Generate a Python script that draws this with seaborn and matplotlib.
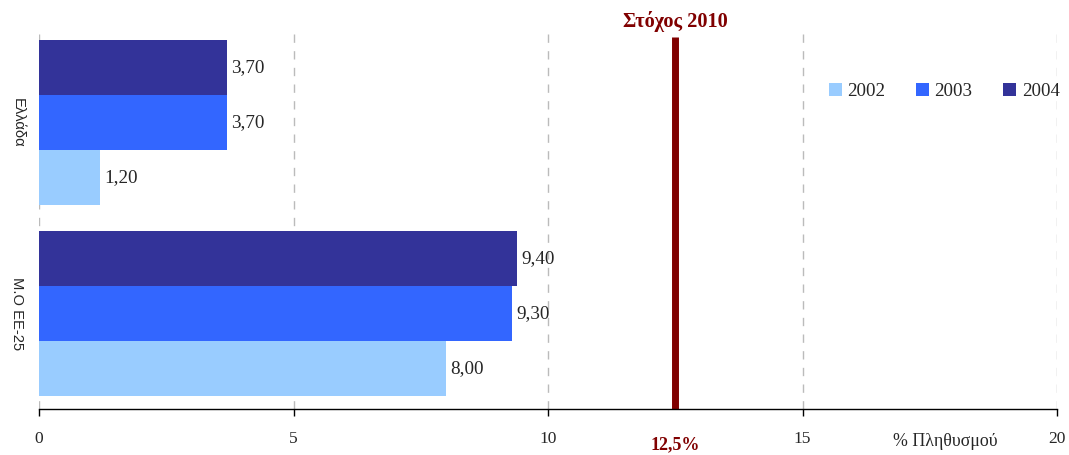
import pandas as pd
import matplotlib.pyplot as plt
import seaborn as sns
from matplotlib.patches import Patch

# data
countries = ['Ελλάδα', 'Μ.Ο ΕΕ-25']
years = ['2002', '2003', '2004']
vals_2002 = [1.20, 8.00]
vals_2003 = [3.70, 9.30]
vals_2004 = [3.70, 9.40]
target = 12.5
year_colors = {'2002': '#99CCFF', '2003': '#3366FF', '2004': '#333399'}

df = pd.DataFrame({
    'country': countries * 3,
    'year': ['2002'] * 2 + ['2003'] * 2 + ['2004'] * 2,
    'value': vals_2002 + vals_2003 + vals_2004,
})

sns.set_style('white')
serif = ['Liberation Serif', 'DejaVu Serif']
sans = ['Liberation Sans', 'DejaVu Sans']

fig = plt.figure(figsize=(10.69, 4.55), dpi=100)
ax = fig.add_axes([0.0365, 0.1011, 0.9523, 0.8396])

sns.barplot(data=df, y='country', x='value', hue='year',
            hue_order=['2004', '2003', '2002'], palette=year_colors,
            orient='h', width=0.864, saturation=1, linewidth=0,
            legend=False, ax=ax)

for cont in ax.containers:
    labels = [f"{b.get_width():.2f}".replace('.', ',') for b in cont]
    ax.bar_label(cont, labels=labels, padding=3, fontsize=13.8, family=serif)

ax.set_xlim(0, 20)
ax.set_ylim(1.5, -0.5)
ax.set_xticks([0, 5, 10, 15, 20])
ax.grid(axis='x', color='#bbbbbb', linestyle=(0, (6, 6)), linewidth=1)
ax.set_axisbelow(True)
for s in ['top', 'right', 'left']:
    ax.spines[s].set_visible(False)
ax.spines['bottom'].set_color('black')
ax.spines['bottom'].set_linewidth(1)
ax.tick_params(axis='x', bottom=True, length=5, width=1, color='black', pad=11)
ax.tick_params(axis='y', left=False, pad=7)
for t in ax.get_xticklabels():
    t.set_fontfamily(serif)
    t.set_fontsize(12.5)
for t in ax.get_yticklabels():
    t.set_fontfamily(sans)
    t.set_fontsize(10.6)
    t.set_rotation(270)
    t.set_va('center')
ax.set_xlabel('')
ax.set_ylabel('')

# target line
ax.axvline(target, ymin=0, ymax=0.974, color='#800000', linewidth=5,
           solid_capstyle='butt', clip_on=False)
ax.text(target, -0.527, 'Στόχος 2010', color='#800000', fontsize=14.7,
        fontweight='bold', family=serif, ha='center', va='center')
ax.text(target, 1.685, '12,5%', color='#800000', fontsize=13,
        fontweight='bold', family=serif, ha='center', va='center',
        clip_on=False)
ax.text(17.8, 1.67, '% Πληθυσμού', fontsize=12.9, family=serif,
        ha='center', va='center')

handles = [Patch(facecolor=year_colors[y], edgecolor='none', label=y) for y in years]
leg = ax.legend(handles=handles, ncol=3, loc='center', bbox_to_anchor=(0.889, 0.832),
                frameon=False, handlelength=0.7, handleheight=0.7,
                handletextpad=0.3, columnspacing=1.6,
                prop={'family': serif, 'size': 13.6})

fig.savefig('out.png', dpi=100)
